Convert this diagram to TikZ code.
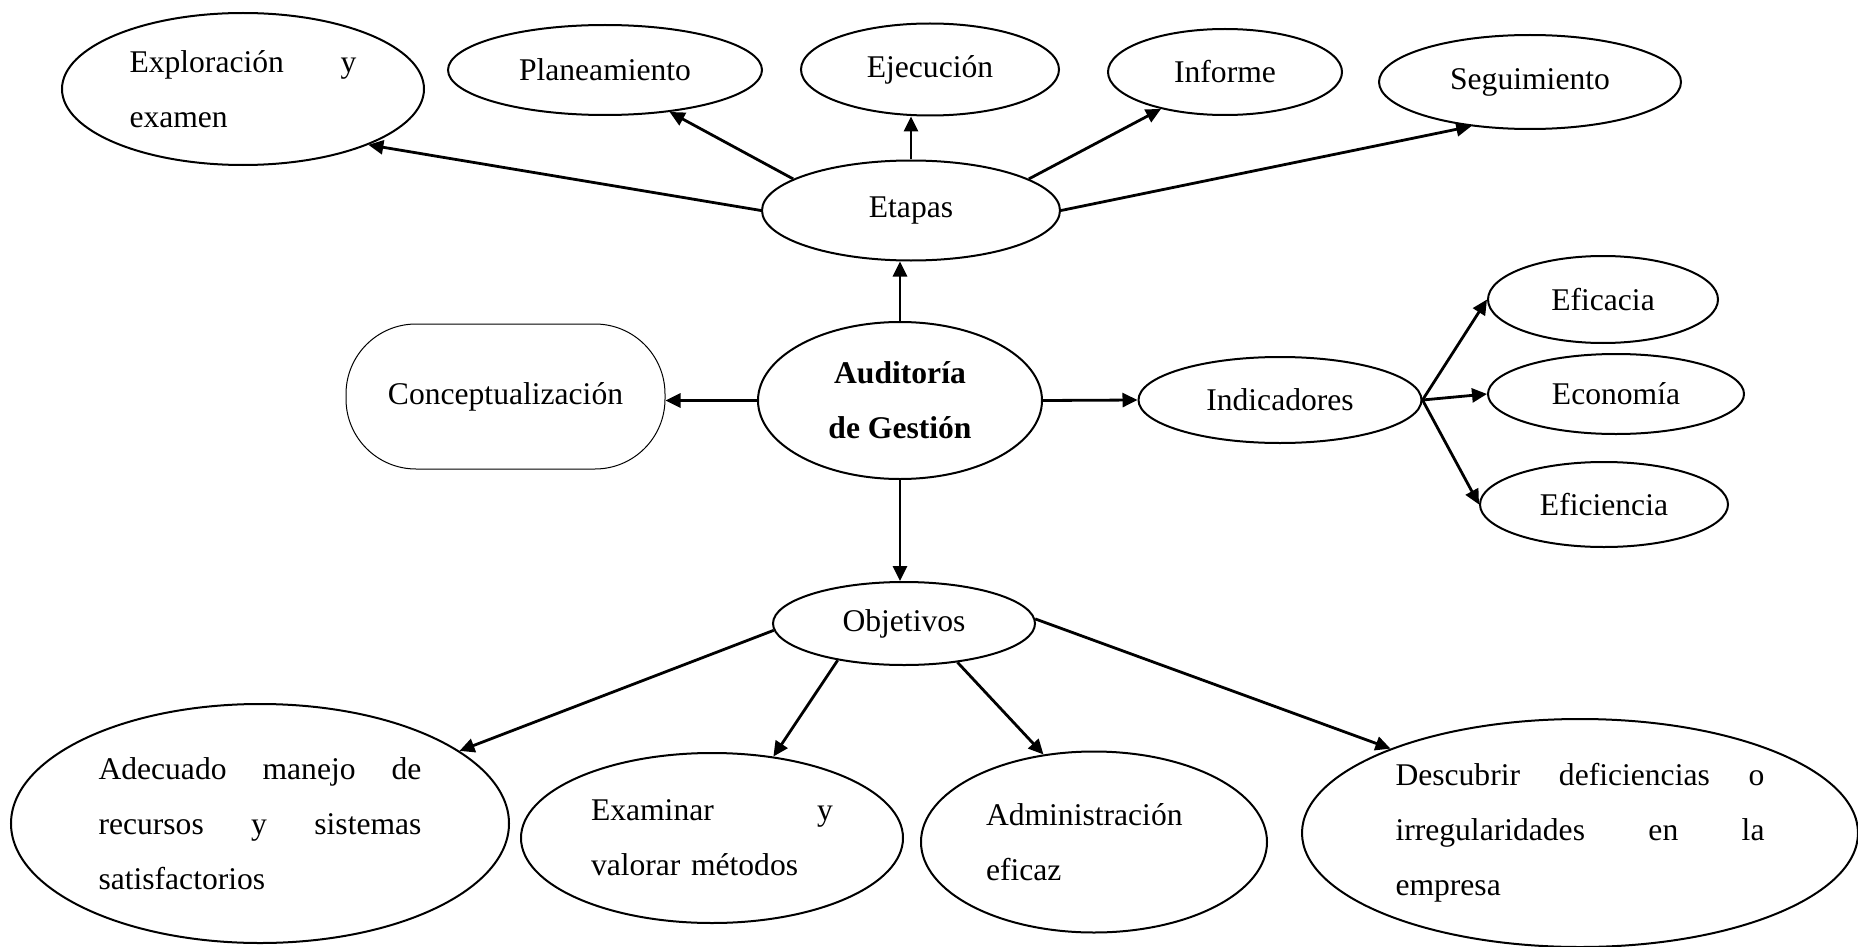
\documentclass[tikz,border=0pt]{standalone}
\usepackage{fontspec}
\setmainfont{Liberation Serif}
\usetikzlibrary{shapes.geometric,arrows.meta}
\begin{document}
\begin{tikzpicture}[x=0.5pt,y=-0.5pt,
  txt/.style={font=\fontsize{15.8}{27.5}\selectfont},
  bubble/.style={ellipse,draw,line width=1pt,inner sep=0pt,txt},
  para/.style={bubble,text width=#1},
  link/.style={line width=1.4pt,-{Triangle[length=7.5pt,width=7pt]}},
]
\useasboundingbox (0,0) rectangle (1858,947);

% stages of the audit
\node[para=113.5pt,minimum width=181pt,minimum height=76pt] (expl) at (243,89)
  {\noindent Exploración\hfill y\\examen};
\node[bubble,minimum width=157pt,minimum height=45pt] (plan) at (605,70) {Planeamiento};
\node[bubble,minimum width=129pt,minimum height=46pt] (ejec) at (930,69.5) {Ejecución};
\node[bubble,minimum width=117pt,minimum height=43pt] (inf) at (1225,72) {Informe};
\node[bubble,minimum width=151pt,minimum height=47pt] (seg) at (1530,82) {Seguimiento};
\node[bubble,minimum width=149pt,minimum height=50pt] (etapas) at (911,210.5) {Etapas};

% centre of the map
\node[bubble,minimum width=142pt,minimum height=78.5pt,align=center,
      font=\fontsize{15.8}{27.5}\selectfont\bfseries] (aud) at (900,400.5)
  {Auditoría\\de Gestión};
\node[draw,line width=0.5pt,rounded corners=35pt,minimum width=159.5pt,
      minimum height=72.5pt,txt] (concept) at (505.5,396.5) {Conceptualización};

% indicators
\node[bubble,minimum width=141.5pt,minimum height=43pt] (ind) at (1280,400) {Indicadores};
\node[bubble,minimum width=115pt,minimum height=43.5pt] (efic) at (1603,299.5) {Eficacia};
\node[bubble,minimum width=128pt,minimum height=40pt] (econ) at (1616,394) {Economía};
\node[bubble,minimum width=124pt,minimum height=42.5pt] (efici) at (1604,504.5) {Eficiencia};

% objectives
\node[bubble,minimum width=131pt,minimum height=41.5pt] (obj) at (904,623.5) {Objetivos};
\node[para=161.5pt,minimum width=249pt,minimum height=119.5pt] (adec) at (260,823.5)
  {\noindent Adecuado\hfill manejo\hfill de\\recursos\hfill y\hfill sistemas\\satisfactorios};
\node[para=121pt,minimum width=191pt,minimum height=85pt] (exam) at (712,838)
  {\noindent Examinar\hfill y\\valorar métodos};
\node[para=108pt,minimum width=173pt,minimum height=90.5pt] (admin) at (1094,842)
  {\noindent Administración\\eficaz};
\node[para=184.5pt,minimum width=278pt,minimum height=114pt] (desc) at (1580,833)
  {\noindent Descubrir\hfill deficiencias\hfill o\\irregularidades\hfill en\hfill la\\empresa};

% connectors
\draw[link] (etapas.west) -- (expl.-24);
\draw[link] (etapas.165) -- (plan.-33);
\draw[link] (etapas.north) -- (etapas.north |- ejec.south);
\draw[link] (etapas.15) -- (inf.210);
\draw[link] (etapas.east) -- (seg.217);

\draw[link] (aud.north) -- (aud.north |- etapas.south);
\draw[link] (aud.west) -- (aud.west -| concept.east);
\draw[link] (aud.east) -- (ind.west);
\draw[link] (aud.south) -- (aud.south |- obj.north);

\draw[link] (ind.east) -- (efic.west);
\draw[link] (ind.east) -- (econ.west);
\draw[link] (ind.east) -- (efici.west);

\draw[link] (obj.183) -- (adec.20);
\draw[link] (obj.209) -- (exam.53);
\draw[link] (obj.-36) -- (admin.120);
\draw[link] (obj.2) -- (desc.156);
\end{tikzpicture}
\end{document}
